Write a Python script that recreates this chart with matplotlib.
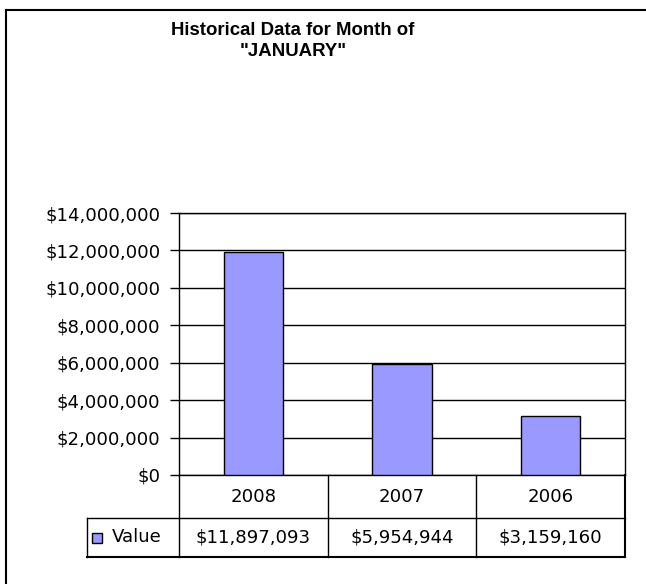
import matplotlib
matplotlib.use('Agg')
import matplotlib.pyplot as plt
from matplotlib.lines import Line2D
from matplotlib.patches import Rectangle
from matplotlib.ticker import FuncFormatter
import numpy as np

years = ['2008', '2007', '2006']
values = [11897093, 5954944, 3159160]
series_name = 'Value'
title = 'Historical Data for Month of\n"JANUARY"'

W, H = 646, 584
bar_color = '#9999FF'
plt.rcParams['font.family'] = ['DejaVu Sans']
fs = 13.1

fig = plt.figure(figsize=(W / 100, H / 100), dpi=100)


def fx(px):
    return px / W


def fy(py):
    return 1 - py / H


# plot area in pixel coords
x0, x1 = 179, 625
y_top, y_bot = 213, 475
ax = fig.add_axes([fx(x0), fy(y_bot), fx(x1) - fx(x0), fy(y_top) - fy(y_bot)])

pos = np.arange(len(years)) + 0.5
ax.bar(pos, values, width=0.4, color=bar_color, edgecolor='black', linewidth=1.0, zorder=3)
ax.set_xlim(0, len(years))
ax.set_ylim(0, 14000000)
ax.set_yticks(np.arange(0, 14000001, 2000000))
ax.yaxis.set_major_formatter(FuncFormatter(lambda v, p: '${:,.0f}'.format(v)))
ax.grid(axis='y', color='black', lw=1.0, zorder=0)
ax.set_xticks([])
ax.tick_params(axis='y', length=6.5, width=1.0, pad=7, labelsize=fs, colors='black')
for s in ax.spines.values():
    s.set_linewidth(1.0)

# data table below the plot
row1, row2 = 518, 557
col_w = (x1 - x0) / len(years)
left_cell = 87
lc = 'black'
fig.add_artist(Line2D([fx(left_cell), fx(x1)], [fy(row1)] * 2, color=lc, lw=1.0))
fig.add_artist(Line2D([fx(left_cell), fx(x1)], [fy(row2)] * 2, color=lc, lw=1.5))
fig.add_artist(Line2D([fx(left_cell)] * 2, [fy(row1), fy(row2)], color=lc, lw=1.0))
for i in range(len(years) + 1):
    xx = x0 + i * col_w
    fig.add_artist(Line2D([fx(xx)] * 2, [fy(y_bot), fy(row2)], color=lc,
                          lw=1.5 if i == len(years) else 1.0))
for i, (yr, v) in enumerate(zip(years, values)):
    cx = x0 + (i + 0.5) * col_w
    fig.text(fx(cx), fy((y_bot + row1) / 2), yr, ha='center', va='center', fontsize=fs)
    fig.text(fx(cx), fy((row1 + row2) / 2), '${:,.0f}'.format(v), ha='center', va='center', fontsize=fs)

# legend key inside the table
fig.add_artist(Rectangle((fx(92), fy(543)), fx(10), fy(0) - fy(10), facecolor=bar_color,
                         edgecolor='black', lw=1.0, transform=fig.transFigure))
fig.text(fx(112), fy((row1 + row2) / 2), series_name, ha='left', va='center', fontsize=fs)

# chart title
fig.text(fx(293), fy(41), title, ha='center', va='center', fontsize=13.4, fontweight='bold',
         family=['Liberation Sans'], linespacing=1.35)

# outer chart frame (left and top edges visible)
fig.add_artist(Line2D([fx(6), fx(6)], [fy(10), 0], color='black', lw=1.5))
fig.add_artist(Line2D([fx(6), 1], [fy(10), fy(10)], color='black', lw=1.5))

fig.savefig('out.png', dpi=100)
